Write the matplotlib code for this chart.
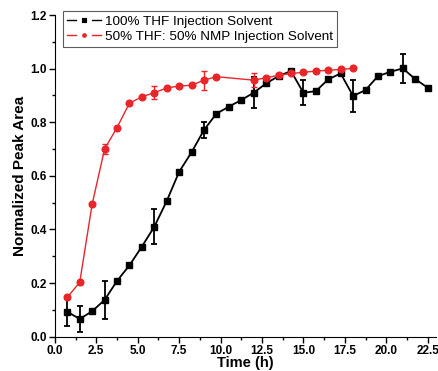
import matplotlib
matplotlib.use("Agg")
from matplotlib import pyplot as plt
from matplotlib.lines import Line2D
from matplotlib.ticker import MultipleLocator

plt.rcParams['font.family'] = ['Liberation Sans', 'DejaVu Sans']

# 100% THF injection solvent
thf_t = [0.75, 1.5, 2.25, 3.0, 3.75, 4.5, 5.25, 6.0, 6.75, 7.5, 8.25, 9.0, 9.75,
         10.5, 11.25, 12.0, 12.75, 13.5, 14.25, 15.0, 15.75, 16.5, 17.25, 18.0,
         18.75, 19.5, 20.25, 21.0, 21.75, 22.5]
thf_y = [0.093, 0.066, 0.095, 0.137, 0.208, 0.266, 0.336, 0.41, 0.506, 0.615,
         0.688, 0.771, 0.832, 0.858, 0.883, 0.910, 0.945, 0.972, 0.991, 0.910,
         0.916, 0.960, 0.982, 0.898, 0.920, 0.972, 0.988, 1.001, 0.961, 0.929]
thf_err = [0.053, 0.05, 0, 0.072, 0, 0, 0, 0.066, 0, 0, 0, 0.03, 0,
           0, 0, 0.057, 0, 0, 0, 0.046, 0, 0, 0, 0.06,
           0, 0, 0, 0.053, 0, 0]

# 50% THF : 50% NMP injection solvent
nmp_t = [0.75, 1.5, 2.25, 3.0, 3.75, 4.5, 5.25, 6.0, 6.75, 7.5, 8.25, 9.0, 9.75,
         12.0, 12.75, 13.5, 14.25, 15.0, 15.75, 16.5, 17.25, 18.0]
nmp_y = [0.147, 0.203, 0.494, 0.70, 0.78, 0.871, 0.895, 0.910, 0.928, 0.935,
         0.938, 0.957, 0.97, 0.957, 0.966, 0.975, 0.982, 0.986, 0.991, 0.994,
         0.997, 1.001]
nmp_err = [0.008, 0, 0, 0.02, 0, 0, 0, 0.025, 0, 0, 0, 0.035, 0,
           0.027, 0, 0, 0, 0, 0, 0, 0, 0]

labels = ['100% THF Injection Solvent', '50% THF: 50% NMP Injection Solvent']
red = '#e8262a'

fig = plt.figure(figsize=(4.39, 3.71), dpi=100)
ax = fig.add_axes([0.125, 0.0925, 0.868, 0.867])

ax.errorbar(thf_t, thf_y, yerr=thf_err, color='black', marker='s', ms=4.2,
            lw=1.3, elinewidth=1.3, capsize=2.5, capthick=1.3, zorder=3)
ax.errorbar(nmp_t, nmp_y, yerr=nmp_err, color=red, marker='o', ms=4.8,
            lw=1.0, elinewidth=1.0, capsize=2.5, capthick=1.0, zorder=4)

ax.set_xlim(0, 23.0)
ax.set_ylim(0, 1.2)
ax.spines['top'].set_visible(False)
ax.spines['right'].set_visible(False)
ax.xaxis.set_major_locator(MultipleLocator(2.5))
ax.xaxis.set_minor_locator(MultipleLocator(1.25))
ax.yaxis.set_major_locator(MultipleLocator(0.2))
ax.yaxis.set_minor_locator(MultipleLocator(0.1))
ax.xaxis.set_major_formatter(plt.FormatStrFormatter('%.1f'))
ax.yaxis.set_major_formatter(plt.FormatStrFormatter('%.1f'))
ax.tick_params(which='major', direction='out', length=4, width=1, labelsize=8.5, pad=2)
ax.tick_params(which='minor', direction='out', length=2.5, width=1)
for lab in ax.get_xticklabels() + ax.get_yticklabels():
    lab.set_fontweight('bold')

ax.set_xlabel('Time (h)', fontsize=10.5, fontweight='bold', labelpad=-1)
ax.set_ylabel('Normalized Peak Area', fontsize=11, fontweight='bold', labelpad=2)

# legend handles in the Origin style: line - gap - marker - gap - line
handles = [Line2D([], [], color='black', lw=1.0, marker='s', ms=6.5,
                  mfc='black', mec='white', mew=3.5),
           Line2D([], [], color=red, lw=1.0, marker='o', ms=7,
                  mfc=red, mec='white', mew=3.5)]
leg = ax.legend(handles, labels, loc='upper left', bbox_to_anchor=(0.021, 1.012),
                fontsize=9.7, frameon=True, fancybox=False, edgecolor='#333333',
                handlelength=2.5, borderpad=0.3, labelspacing=0.2,
                handletextpad=0.35, borderaxespad=0)
leg.get_frame().set_linewidth(0.8)

fig.savefig('out.png', dpi=100)
